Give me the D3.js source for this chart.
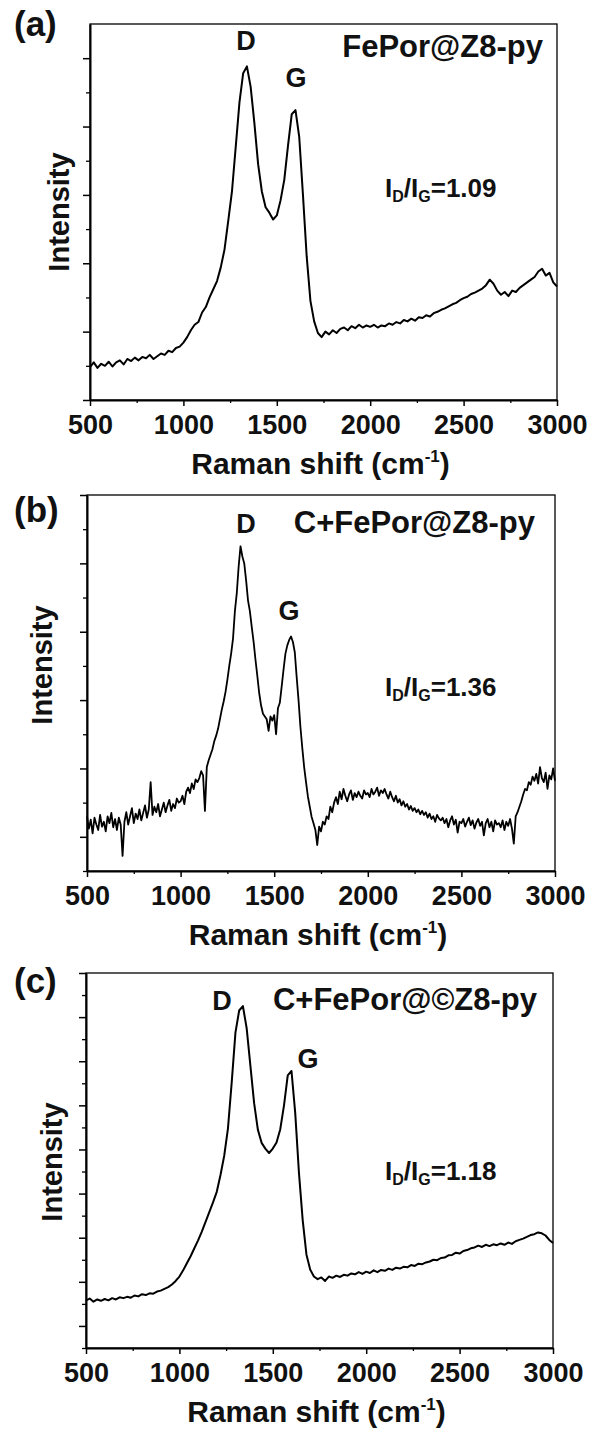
<!DOCTYPE html>
<html>
<head>
<meta charset="utf-8">
<script src="https://cdn.jsdelivr.net/npm/d3@7/dist/d3.min.js"></script>
<style>
  body { margin: 0; background: #fff; }
  text { font-family: "Liberation Sans", Arial, sans-serif; font-weight: bold; }
</style>
</head>
<body>
<svg width="593" height="1433"></svg>
<script>
// x axis (Raman shift, cm-1)
const xTicks = [500, 1000, 1500, 2000, 2500, 3000];
const xMinor = [750, 1250, 1750, 2250, 2750];

// spectra, arbitrary units, sampled from 500 cm-1 on a fixed step
const stepA = 20;
const intensityA = [
  0.48, 0.55, 0.47, 0.53, 0.50, 0.56, 0.49, 0.55, 0.58, 0.52,
  0.60, 0.57, 0.62, 0.58, 0.63, 0.61, 0.66, 0.60, 0.64, 0.68,
  0.66, 0.72, 0.70, 0.76, 0.78, 0.84, 0.92, 1.02, 1.10, 1.14,
  1.28, 1.36, 1.50, 1.62, 1.74, 1.94, 2.20, 2.62, 3.05, 3.70,
  4.35, 4.78, 4.88, 4.58, 4.05, 3.45, 3.05, 2.82, 2.74, 2.64,
  2.70, 2.92, 3.22, 3.72, 4.18, 4.24, 3.85, 3.00, 2.10, 1.45,
  1.15, 0.98, 0.92, 1.00, 0.96, 1.02, 0.98, 1.04, 1.06, 1.02,
  1.08, 1.05, 1.10, 1.06, 1.09, 1.07, 1.10, 1.06, 1.09, 1.08,
  1.12, 1.10, 1.14, 1.12, 1.17, 1.15, 1.19, 1.16, 1.21, 1.20,
  1.24, 1.22, 1.27, 1.29, 1.32, 1.34, 1.37, 1.40, 1.42, 1.46,
  1.49, 1.51, 1.55, 1.57, 1.60, 1.63, 1.68, 1.76, 1.70, 1.60,
  1.54, 1.58, 1.52, 1.60, 1.58, 1.64, 1.68, 1.72, 1.76, 1.80,
  1.88, 1.92, 1.82, 1.86, 1.72, 1.66
];

const stepB = 10;
const intensityB = [
  0.30, 0.12, 0.25, 0.05, 0.28, 0.18, 0.10, 0.32, 0.15, 0.22,
  0.08, 0.30, 0.20, 0.35, 0.14, 0.26, 0.10, 0.28, 0.18, -0.28,
  0.22, 0.36, 0.18, 0.30, 0.42, 0.20, 0.34, 0.26, 0.40, 0.24,
  0.35, 0.46, 0.28, 0.40, 0.80, 0.32, 0.44, 0.36, 0.48, 0.30,
  0.40, 0.50, 0.36, 0.46, 0.54, 0.38, 0.48, 0.42, 0.56, 0.50,
  0.52, 0.60, 0.48, 0.66, 0.72, 0.64, 0.78, 0.70, 0.84, 0.80,
  0.86, 0.96, 0.90, 0.38, 1.02, 1.12, 1.20, 1.28, 1.40, 1.48,
  1.58, 1.72, 1.86, 1.98, 2.12, 2.30, 2.50, 2.68, 2.90, 3.30,
  3.56, 3.95, 4.25, 4.10, 4.00, 3.75, 3.46, 3.30, 3.07, 2.85,
  2.59, 2.35, 2.10, 1.92, 1.80, 1.76, 1.72, 1.55, 1.76, 1.70,
  1.78, 1.50, 1.88, 1.96, 2.20, 2.45, 2.68, 2.80, 2.88, 2.93,
  2.85, 2.70, 2.34, 2.00, 1.61, 1.30, 1.02, 0.80, 0.59, 0.44,
  0.29, 0.20, 0.10, -0.12, 0.15, 0.08, 0.22, 0.18, 0.30, 0.26,
  0.44, 0.36, 0.50, 0.58, 0.48, 0.66, 0.55, 0.70, 0.60, 0.52,
  0.62, 0.68, 0.54, 0.64, 0.58, 0.66, 0.60, 0.56, 0.68, 0.62,
  0.64, 0.58, 0.70, 0.62, 0.66, 0.72, 0.60, 0.68, 0.64, 0.70,
  0.62, 0.56, 0.66, 0.58, 0.52, 0.60, 0.50, 0.55, 0.46, 0.52,
  0.44, 0.48, 0.40, 0.45, 0.38, 0.42, 0.36, 0.40, 0.33, 0.38,
  0.32, 0.36, 0.28, 0.34, 0.26, 0.30, 0.22, 0.32, 0.27, 0.24,
  0.28, 0.20, 0.26, 0.14, 0.24, 0.30, 0.18, 0.25, 0.06, 0.22,
  0.20, 0.26, 0.15, 0.22, 0.28, 0.17, 0.24, 0.12, 0.21, 0.26,
  0.16, 0.22, 0.02, 0.20, 0.26, 0.14, 0.22, 0.08, 0.24, 0.18,
  0.20, 0.14, 0.24, 0.10, 0.22, 0.16, 0.26, 0.12, -0.10, 0.30,
  0.36, 0.44, 0.52, 0.62, 0.70, 0.68, 0.80, 0.76, 0.88, 0.82,
  0.92, 0.78, 1.02, 0.86, 0.80, 0.94, 0.70, 0.90, 0.84, 1.00,
  0.82
];

const stepC = 20;
const intensityC = [
  0.58, 0.62, 0.55, 0.60, 0.57, 0.61, 0.58, 0.63, 0.60, 0.65,
  0.63, 0.66, 0.64, 0.69, 0.67, 0.72, 0.70, 0.74, 0.73, 0.78,
  0.80, 0.84, 0.88, 0.94, 1.02, 1.12, 1.26, 1.42, 1.58, 1.76,
  1.94, 2.14, 2.36, 2.58, 2.80, 3.04, 3.42, 3.86, 4.48, 5.52,
  6.65, 7.15, 7.25, 6.75, 5.90, 5.05, 4.45, 4.15, 4.02, 3.92,
  4.02, 4.16, 4.46, 5.00, 5.68, 5.78, 4.83, 3.47, 2.40, 1.62,
  1.28, 1.12, 1.06, 1.10, 1.02, 1.12, 1.09, 1.14, 1.11, 1.16,
  1.14, 1.19, 1.17, 1.22, 1.18, 1.23, 1.20, 1.26, 1.22, 1.27,
  1.25, 1.30, 1.27, 1.32, 1.30, 1.34, 1.33, 1.38, 1.36, 1.41,
  1.40, 1.44, 1.46, 1.50, 1.49, 1.54, 1.55, 1.60, 1.61, 1.66,
  1.64, 1.70, 1.72, 1.76, 1.78, 1.82, 1.79, 1.84, 1.81, 1.85,
  1.83, 1.87, 1.84, 1.89, 1.86, 1.92, 1.95, 1.98, 2.02, 2.06,
  2.08, 2.12, 2.10, 2.05, 1.95, 1.88
];

// labels
const panelTags = ["(a)", "(b)", "(c)"];
const sampleNames = ["FePor@Z8-py", "C+FePor@Z8-py", "C+FePor@\u00A9Z8-py"];
const ratios = ["1.09", "1.36", "1.18"];
const peakD = [1335, 1349, 1228];   // where the D / G letters sit (cm-1)
const peakG = [1603, 1579, 1688];

// y scales: each panel has its own arbitrary range + ticks
const yDomains = [[0, 5.5], [-0.5, 5], [-0.5, 8]];
const yMajor = [[0, 1, 2, 3, 4, 5], [0, 1, 2, 3, 4, 5], [0, 1, 2, 3, 4, 5, 6, 7, 8]];
const yMinor = [
  [0.5, 1.5, 2.5, 3.5, 4.5],
  [-0.5, 0.5, 1.5, 2.5, 3.5, 4.5],
  [-0.5, 0.5, 1.5, 2.5, 3.5, 4.5, 5.5, 6.5, 7.5]
];

const series = [
  { values: intensityA, step: stepA, width: 2.0 },
  { values: intensityB, step: stepB, width: 1.8 },
  { values: intensityC, step: stepC, width: 2.0 }
];

// page layout for each panel (pixels)
const layout = [
  { top: 24,  bottom: 400,  left: 90, right: 557, tagY: 36,  dY: 50,   gY: 87,   nameX: 543, nameY: 57,   ratioY: 197,  intX: 69, intY: 212 },
  { top: 495, bottom: 871,  left: 87, right: 555, tagY: 522, dY: 533,  gY: 620,  nameX: 535, nameY: 533,  ratioY: 696,  intX: 52, intY: 665 },
  { top: 973, bottom: 1348, left: 86, right: 553, tagY: 993, dY: 1010, gY: 1068, nameX: 537, nameY: 1010, ratioY: 1180, intX: 62, intY: 1162 }
];

const svg = d3.select("svg");

layout.forEach((p, k) => {
  const g = svg.append("g");

  const x = d3.scaleLinear().domain([500, 3000]).range([p.left, p.right]);
  const y = d3.scaleLinear().domain(yDomains[k]).range([p.bottom, p.top]);

  // frame (top + right are thinner)
  g.append("rect")
    .attr("x", p.left).attr("y", p.top)
    .attr("width", p.right - p.left).attr("height", p.bottom - p.top)
    .attr("fill", "none").attr("stroke", "#000").attr("stroke-width", 1.3);

  // spectrum
  const s = series[k];
  const line = d3.line()
    .x((d, i) => x(500 + i * s.step))
    .y(d => y(d));
  g.append("path")
    .datum(s.values)
    .attr("d", line)
    .attr("fill", "none")
    .attr("stroke", "#000")
    .attr("stroke-width", s.width)
    .attr("stroke-linejoin", "round");

  // x axis
  const gx = g.append("g").attr("transform", `translate(0,${p.bottom})`)
    .call(d3.axisBottom(x).tickValues(xTicks).tickFormat(d3.format("d"))
      .tickSize(6).tickSizeOuter(0).tickPadding(9));
  gx.select(".domain").attr("stroke-width", 2);
  gx.selectAll(".tick line").attr("stroke-width", 1.5);
  gx.selectAll("text").attr("font-size", 27).attr("fill", "#111");
  g.append("g").attr("transform", `translate(0,${p.bottom})`)
    .call(d3.axisBottom(x).tickValues(xMinor).tickSize(3).tickSizeOuter(0).tickFormat(""))
    .call(a => a.select(".domain").remove())
    .selectAll("line").attr("stroke-width", 1.3);

  // y axis (no labels)
  const gy = g.append("g").attr("transform", `translate(${p.left},0)`)
    .call(d3.axisLeft(y).tickValues(yMajor[k]).tickSize(7).tickSizeOuter(0).tickFormat(""));
  gy.select(".domain").attr("stroke-width", 2);
  gy.selectAll(".tick line").attr("stroke-width", 1.5);
  g.append("g").attr("transform", `translate(${p.left},0)`)
    .call(d3.axisLeft(y).tickValues(yMinor[k]).tickSize(4).tickSizeOuter(0).tickFormat(""))
    .call(a => a.select(".domain").remove())
    .selectAll("line").attr("stroke-width", 1.3);

  // axis titles
  const xt = g.append("text")
    .attr("x", (p.left + p.right) / 2 - 3).attr("y", p.bottom + 74)
    .attr("text-anchor", "middle").attr("font-size", 30).attr("fill", "#111");
  xt.append("tspan").text("Raman shift (cm");
  xt.append("tspan").attr("font-size", 17).attr("dy", -12).text("-1");
  xt.append("tspan").attr("dy", 12).text(")");

  g.append("text")
    .attr("transform", `translate(${p.intX},${p.intY}) rotate(-90)`)
    .attr("text-anchor", "middle").attr("font-size", 29).attr("fill", "#111")
    .text("Intensity");

  // annotations
  g.append("text").attr("x", 14).attr("y", p.tagY)
    .attr("font-size", 35).attr("fill", "#111").text(panelTags[k]);

  g.append("text").attr("x", x(peakD[k])).attr("y", p.dY)
    .attr("text-anchor", "middle").attr("font-size", 27).attr("fill", "#111").text("D");
  g.append("text").attr("x", x(peakG[k])).attr("y", p.gY)
    .attr("text-anchor", "middle").attr("font-size", 27).attr("fill", "#111").text("G");

  g.append("text").attr("x", p.nameX).attr("y", p.nameY)
    .attr("text-anchor", "end").attr("font-size", 31).attr("fill", "#111")
    .text(sampleNames[k]);

  const rt = g.append("text").attr("x", 385).attr("y", p.ratioY)
    .attr("font-size", 26).attr("fill", "#111");
  rt.append("tspan").text("I");
  rt.append("tspan").attr("font-size", 16).attr("dy", 5).text("D");
  rt.append("tspan").attr("dy", -5).text("/I");
  rt.append("tspan").attr("font-size", 16).attr("dy", 5).text("G");
  rt.append("tspan").attr("dy", -5).text("=" + ratios[k]);
});
</script>
</body>
</html>
